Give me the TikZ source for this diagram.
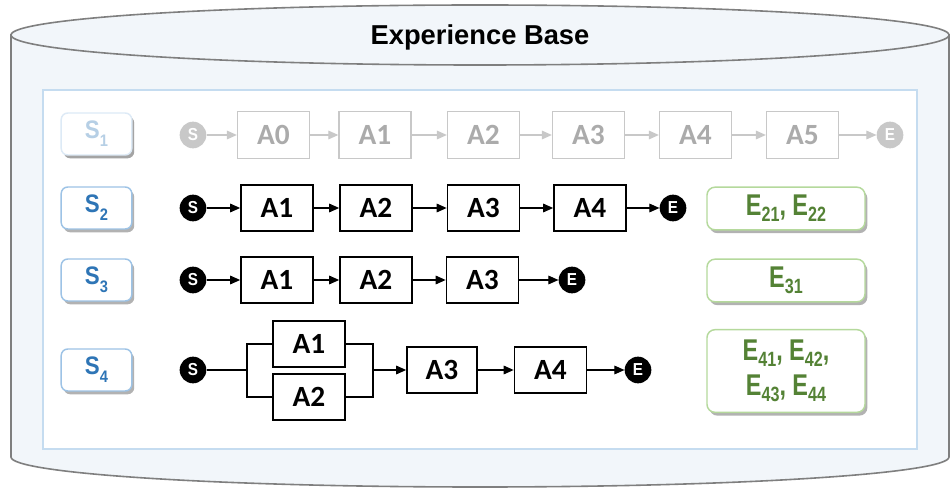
\documentclass[tikz,border=0pt]{standalone}
\usepackage{fontspec}
\setmainfont{Liberation Sans}
\newfontfamily\calfont{Carlito}
\newfontfamily\narrowfont[FakeStretch=0.78]{Liberation Sans}
\newfontfamily\snarrowfont[FakeStretch=0.88]{Liberation Sans}
\usetikzlibrary{shadows,arrows.meta}
\definecolor{cylfill}{HTML}{F2F6FA}
\definecolor{cylline}{HTML}{7F7F7F}
\definecolor{innerline}{HTML}{C5DCF0}
\definecolor{sline}{HTML}{9DC3E6}
\definecolor{stext}{HTML}{2E75B6}
\definecolor{eline}{HTML}{B5D99C}
\definecolor{etext}{HTML}{548235}
\definecolor{fadeline}{HTML}{C8C8C8}
\definecolor{fadetext}{HTML}{ABABAB}
\newcommand\ssub[1]{\raisebox{-6pt}{\fontsize{12.5}{12.5}\selectfont #1}}
\newcommand\esub[1]{\raisebox{-4.5pt}{\fontsize{15.5}{15.5}\selectfont #1}}
\tikzset{
  act/.style={draw=black, line width=1.3pt, minimum width=54pt, minimum height=35pt, inner sep=0pt,
    font=\calfont\bfseries\fontsize{22}{22}\selectfont},
  factb/.style={act, draw=fadeline, text=fadetext, line width=1pt},
  endpt/.style={circle, fill=black, minimum size=20pt, inner sep=0pt, text=white,
    font=\snarrowfont\bfseries\fontsize{13}{13}\selectfont},
  fendpt/.style={endpt, fill=fadeline},
  conn/.style={line width=0.8pt, -{Triangle[length=7.5pt,width=6.5pt]}},
  fconn/.style={conn, draw=fadeline, -{Triangle[length=7.5pt,width=6.5pt,fill=fadeline]}},
  plainln/.style={line width=0.8pt},
  slabel/.style={draw=sline, line width=1.1pt, fill=white, rounded corners=5pt,
    minimum width=53pt, minimum height=31.5pt, inner sep=0pt, text=stext,
    font=\snarrowfont\bfseries\fontsize{19}{19}\selectfont,
    drop shadow={shadow xshift=1.8pt, shadow yshift=-2.5pt, fill=black, opacity=0.3}},
  elabel/.style={draw=eline, line width=1.1pt, fill=white, rounded corners=6pt,
    minimum width=118.5pt, minimum height=32pt, inner sep=0pt, text=etext, align=center,
    font=\narrowfont\bfseries\fontsize{22.5}{26}\selectfont,
    drop shadow={shadow xshift=1.8pt, shadow yshift=-2.5pt, fill=black, opacity=0.3}}
}
\begin{document}
\begin{tikzpicture}[x=0.75pt,y=-0.75pt]
\useasboundingbox (0,0) rectangle (950,488);
% cylinder body
\draw[cylline, fill=cylfill, line width=1.2pt]
  (11,35) -- (11,457) .. controls (11,473.6) and (220.97,487) .. (480,487)
  .. controls (739.03,487) and (949,473.6) .. (949,457) -- (949,35) -- cycle;
\draw[cylline, fill=cylfill, line width=1.2pt] (480,35) ellipse [x radius=469, y radius=30];
\node[font=\bfseries\fontsize{20.5}{20.5}\selectfont] (title) at (480,37) {Experience Base};
% inner panel
\draw[innerline, fill=white, line width=1.5pt] (43,90) rectangle (917,449);

% scenario labels
\node[slabel, draw=sline!35, text=stext!35,
  drop shadow={shadow xshift=1.8pt, shadow yshift=-2.5pt, fill=black, opacity=0.08}] (s1) at (96.5,134) {S\ssub{1}};
\node[slabel] (s2) at (96.5,208) {S\ssub{2}};
\node[slabel] (s3) at (96.5,280) {S\ssub{3}};
\node[slabel] (s4) at (96.5,370) {S\ssub{4}};

% row 1 (faded)
\node[fendpt] (r1s) at (193,135) {S};
\node[factb] (r1a0) at (273.5,135) {A0};
\node[factb] (r1a1) at (375,135) {A1};
\node[factb] (r1a2) at (483.5,135) {A2};
\node[factb] (r1a3) at (588.5,135) {A3};
\node[factb] (r1a4) at (695.5,135) {A4};
\node[factb] (r1a5) at (802.5,135) {A5};
\node[fendpt] (r1e) at (890,135) {E};
\draw[fconn] (r1s) -- (r1a0);
\draw[fconn] (r1a0) -- (r1a1);
\draw[fconn] (r1a1) -- (r1a2);
\draw[fconn] (r1a2) -- (r1a3);
\draw[fconn] (r1a3) -- (r1a4);
\draw[fconn] (r1a4) -- (r1a5);
\draw[fconn] (r1a5) -- (r1e);

% row 2
\node[endpt] (r2s) at (193,208) {S};
\node[act] (r2a1) at (277,208) {A1};
\node[act] (r2a2) at (376,208) {A2};
\node[act] (r2a3) at (483.5,208) {A3};
\node[act] (r2a4) at (590,208) {A4};
\node[endpt] (r2e) at (673,208) {E};
\draw[conn] (r2s) -- (r2a1);
\draw[conn] (r2a1) -- (r2a2);
\draw[conn] (r2a2) -- (r2a3);
\draw[conn] (r2a3) -- (r2a4);
\draw[conn] (r2a4) -- (r2e);
\node[elabel] (e2) at (786,208.5) {E\esub{21}, E\esub{22}};

% row 3
\node[endpt] (r3s) at (193,280) {S};
\node[act] (r3a1) at (277,280) {A1};
\node[act] (r3a2) at (376,280) {A2};
\node[act] (r3a3) at (482.5,280) {A3};
\node[endpt] (r3e) at (572,280) {E};
\draw[conn] (r3s) -- (r3a1);
\draw[conn] (r3a1) -- (r3a2);
\draw[conn] (r3a2) -- (r3a3);
\draw[conn] (r3a3) -- (r3e);
\node[elabel] (e3) at (786,280.5) {E\esub{31}};

% row 4
\node[endpt] (r4s) at (193,370) {S};
\node[act] (r4a1) at (309,344) {A1};
\node[act] (r4a2) at (309,397) {A2};
\node[act, minimum width=52.5pt] (r4a3) at (442,370) {A3};
\node[act] (r4a4) at (550.5,370) {A4};
\node[endpt] (r4e) at (638,370) {E};
\coordinate (jl) at (247,370);
\coordinate (jr) at (373,370);
\draw[plainln] (r4s) -- (jl);
\draw[plainln] (r4a1.west) -| (jl) |- (r4a2.west);
\draw[plainln] (r4a1.east) -| (jr) |- (r4a2.east);
\draw[conn] (jr) -- (r4a3);
\draw[conn] (r4a3) -- (r4a4);
\draw[conn] (r4a4) -- (r4e);
\node[elabel, minimum height=62pt] (e4) at (786,371) {E\esub{41}, E\esub{42},\\E\esub{43}, E\esub{44}};
\end{tikzpicture}
\end{document}
